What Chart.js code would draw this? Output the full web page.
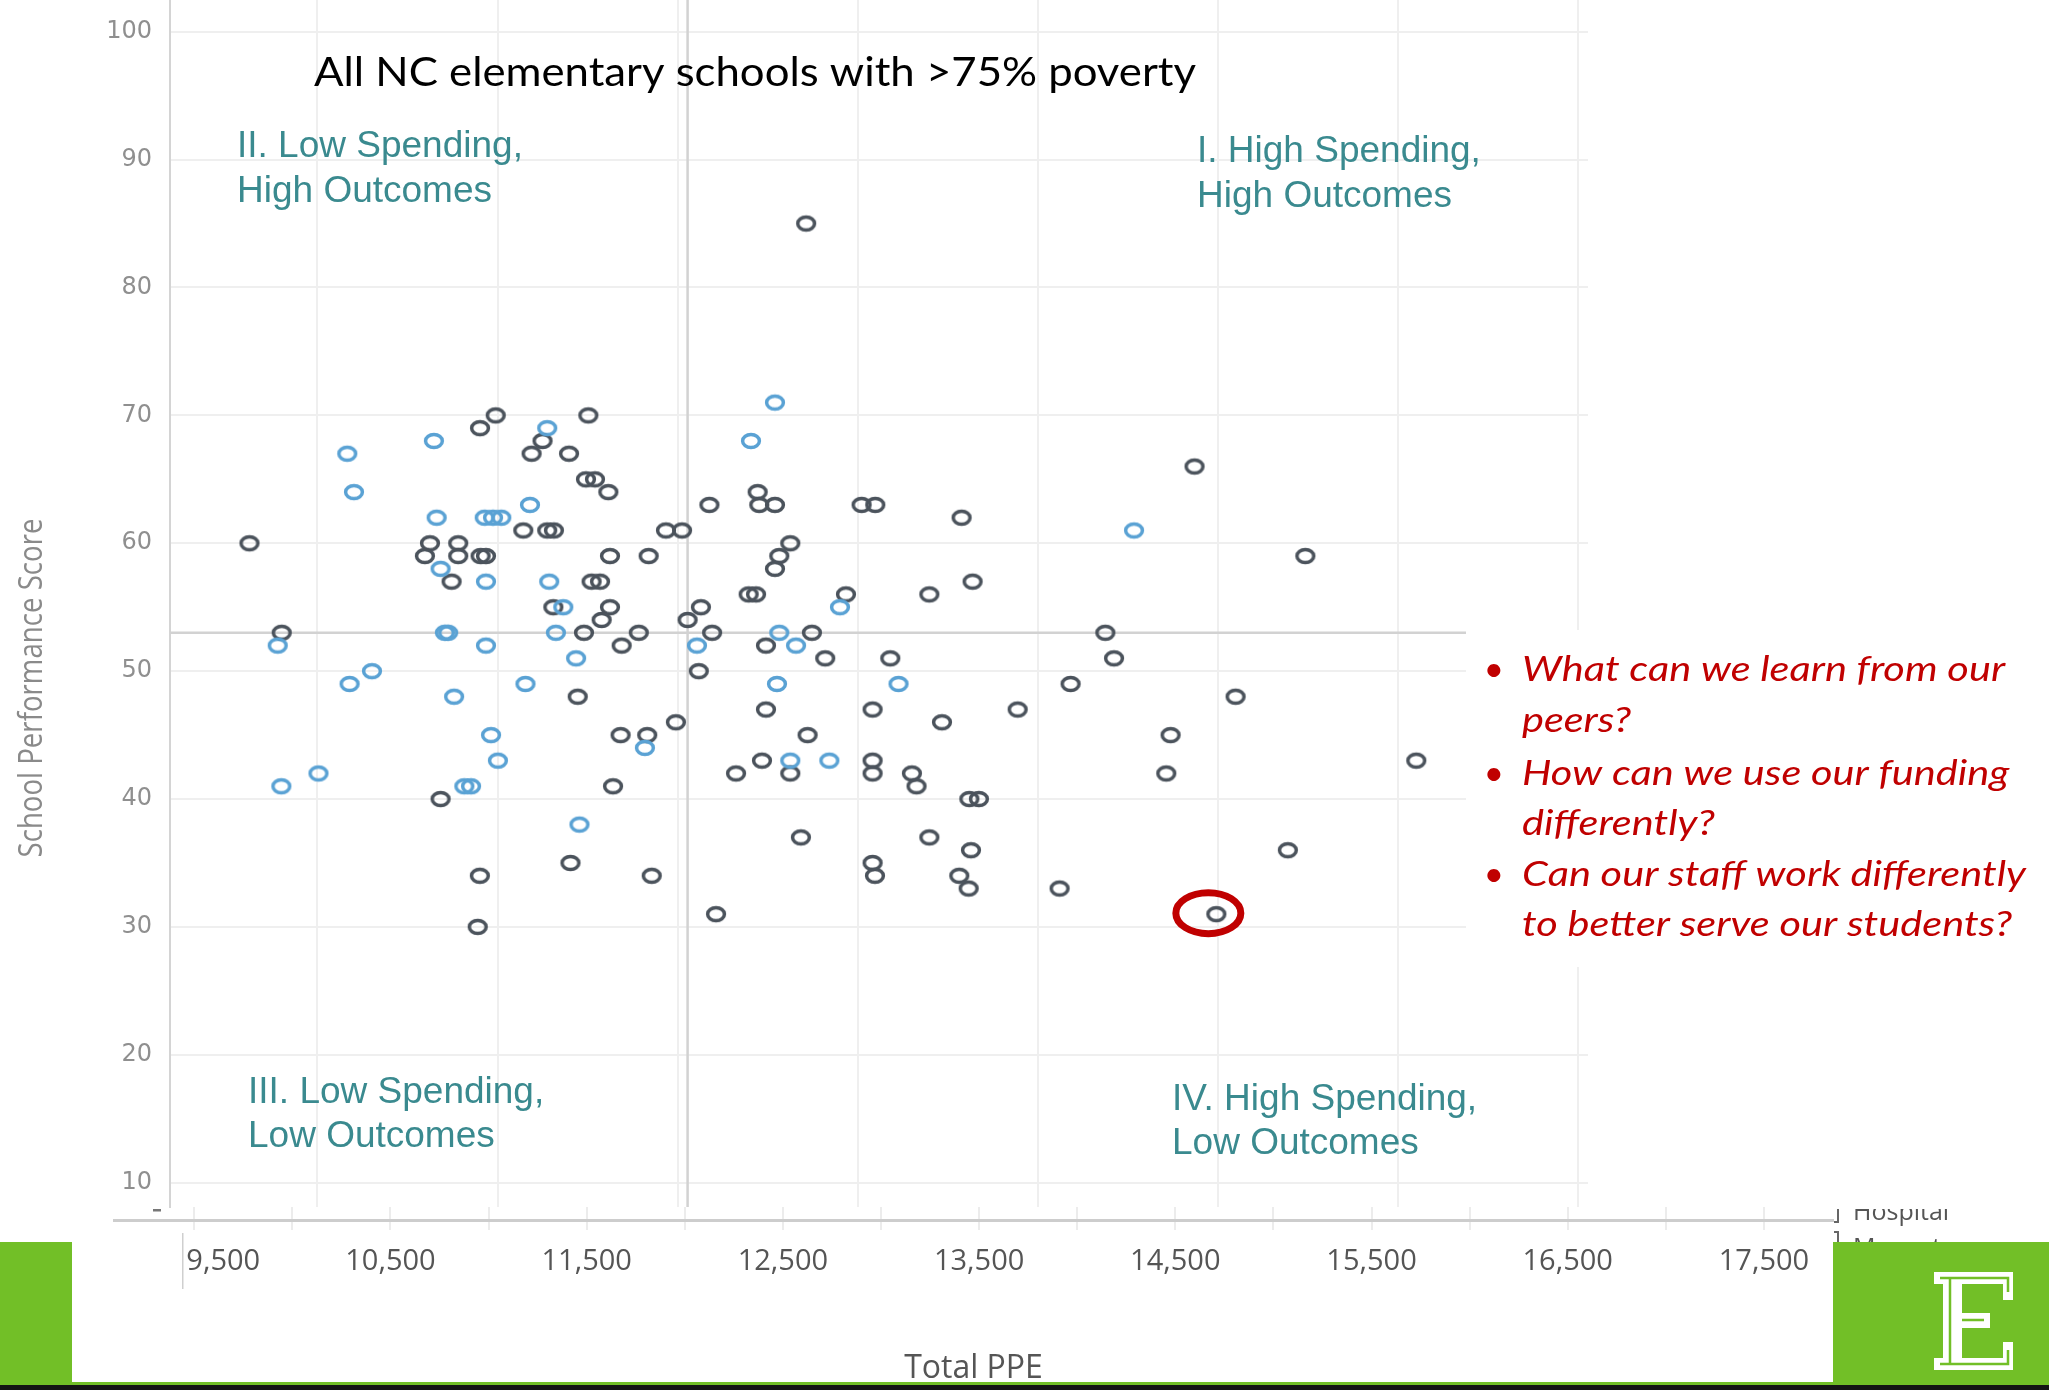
<!DOCTYPE html>
<html>
<head>
<meta charset="utf-8">
<title>NC elementary schools: spending vs performance</title>
<script src="https://cdn.jsdelivr.net/npm/chart.js@4.4.1/dist/chart.umd.min.js"></script>
<style>
  html, body { margin: 0; padding: 0; background: #fff; }
  #slide { position: relative; width: 2049px; height: 1390px; overflow: hidden; background: #fff; }
  #slide canvas { position: absolute; left: 0; }
  #plot { top: 0; }
  #ppeAxis { top: 1207px; }
  .green { position: absolute; background: #72bf27; }
</style>
</head>
<body>
<div id="slide">
  <canvas id="plot" width="2049" height="1390"></canvas>
  <canvas id="ppeAxis" width="2049" height="190"></canvas>
  <div class="green" style="left:0;top:1242px;width:72px;height:142px"></div>
  <div class="green" style="left:1833px;top:1242px;width:216px;height:142px"></div>
  <div class="green" style="left:0;top:1382px;width:2049px;height:3px"></div>
  <div style="position:absolute;left:0;top:1385px;width:2049px;height:5px;background:#141414"></div>
  <svg style="position:absolute;left:1934px;top:1272px" width="79" height="98" viewBox="0 0 79 98">
    <path d="M0 0H79V28H69V12H28V41H56V56H28V86H69V70H79V98H0V86H9V12H0Z" fill="#fff"/>
    <path d="M16 6V92M6 6H74V20M6 92H74V78M28 48H50" stroke="#72bf27" stroke-width="2.5" fill="none"/>
  </svg>
</div>
<script>
// School performance score against total per-pupil expenditure
const darkPPE = [
  9623, 9802, 10903, 10990, 11250, 11189, 11397, 11504, 11491, 11541,
  11615, 11143, 11276, 11313, 10625, 10782, 10597, 10782, 10906, 10936,
  11624, 10745, 11522, 11569, 11310, 11624, 11578, 11480, 11689, 11784,
  12444, 12453, 12540, 12176, 13021, 13097, 13576, 11935, 12024, 11839,
  12625, 12564, 12540, 12394, 12435, 12934, 13397, 13637, 12129, 12055,
  12191, 12745, 12490, 12819, 13180, 12117, 14869, 15484, 14374, 14422,
  11445, 11990, 11683, 11831, 11641, 10684, 11405, 10902, 11856, 10890,
  12490, 13082, 13887, 13467, 12721, 12468, 13082, 12324, 12625, 13082,
  13300, 13326, 13619, 13672, 12684, 13397, 13628, 13082, 13095, 13563,
  13615, 12213, 14181, 15097, 14736, 14712, 16100, 15387, 14120, 14990,
  12713
];
const darkScore = [
  60, 53, 69, 70, 68, 67, 67, 70, 65, 65,
  64, 61, 61, 61, 60, 60, 59, 59, 59, 59,
  59, 57, 57, 57, 55, 55, 54, 53, 52, 53,
  64, 63, 63, 63, 63, 63, 62, 61, 61, 59,
  60, 59, 58, 56, 56, 56, 56, 57, 55, 54,
  53, 53, 52, 51, 51, 50, 66, 59, 53, 51,
  48, 46, 45, 45, 41, 40, 35, 34, 34, 30,
  47, 47, 47, 46, 45, 43, 43, 42, 42, 42,
  42, 41, 40, 40, 37, 37, 36, 35, 34, 34,
  33, 31, 49, 48, 45, 42, 43, 36, 33, 31,
  85
];
const bluePPE = [
  9780, 10166, 10203, 10647, 11276, 11180, 10662, 10929, 10975, 11021,
  10684, 10936, 11287, 11365, 10708, 10726, 11324, 10936, 11436, 12540,
  12407, 12901, 12564, 12107, 12657, 14533, 10303, 10179, 11155, 10759,
  10964, 11818, 11002, 10006, 9800, 10816, 10853, 11455, 12551, 13226,
  12625, 12842
];
const blueScore = [
  52, 67, 64, 68, 69, 63, 62, 62, 62, 62,
  58, 57, 57, 55, 53, 53, 53, 52, 51, 71,
  68, 55, 53, 52, 52, 61, 50, 49, 49, 48,
  45, 44, 43, 42, 41, 41, 41, 38, 49, 49,
  43, 43
];

const scoreTicks = [10, 20, 30, 40, 50, 60, 70, 80, 90, 100];
const ppeGrid = [10000, 11000, 12000, 13000, 14000, 15000, 16000, 17000];
const ppeAxisTicks = [9500, 10000, 10500, 11000, 11500, 12000, 12500, 13000, 13500,
  14000, 14500, 15000, 15500, 16000, 16500, 17000, 17500];
const ppeAxisLabels = [9500, 10500, 11500, 12500, 13500, 14500, 15500, 16500, 17500];

const medianPPE = 12055;
const medianScore = 53;
const circledSchool = [14990, 31];

const questions = [
  ['What can we learn from our', 'peers?'],
  ['How can we use our funding', 'differently?'],
  ['Can our staff work differently', 'to better serve our students?']
];

const TEAL = '#3a8a8f';
const RED = '#c00000';

// hollow, slightly flattened rings like the original marks
function ring(color) {
  const c = document.createElement('canvas');
  c.width = 24; c.height = 20;
  const g = c.getContext('2d');
  g.strokeStyle = color;
  g.lineWidth = 3.5;
  g.beginPath();
  g.ellipse(12, 10, 8.4, 6.4, 0, 0, Math.PI * 2);
  g.stroke();
  return c;
}

function fitText(ctx, text, x, y, width) {
  const w = ctx.measureText(text).width;
  ctx.save();
  ctx.translate(x, y);
  ctx.scale(width / w, 1);
  ctx.fillText(text, 0, 0);
  ctx.restore();
}

const overlay = {
  id: 'overlay',
  beforeDatasetsDraw(chart) {
    const { ctx, chartArea: a, scales: { x, y } } = chart;
    const mx = x.getPixelForValue(medianPPE);
    const my = y.getPixelForValue(medianScore);
    ctx.save();
    ctx.strokeStyle = '#d2d2d2';
    ctx.lineWidth = 2.5;
    ctx.beginPath();
    ctx.moveTo(mx, a.top); ctx.lineTo(mx, a.bottom);
    ctx.moveTo(a.left, my); ctx.lineTo(a.right, my);
    ctx.stroke();
    ctx.restore();
  },
  afterDatasetsDraw(chart) {
    const { ctx, scales: { x, y } } = chart;
    const cx = x.getPixelForValue(circledSchool[0]) - 8;
    const cy = y.getPixelForValue(circledSchool[1]) - 1;
    ctx.save();
    ctx.strokeStyle = RED;
    ctx.lineWidth = 7;
    ctx.beginPath();
    ctx.ellipse(cx, cy, 32.5, 20.5, 0, 0, Math.PI * 2);
    ctx.stroke();
    ctx.restore();
  },
  afterDraw(chart) {
    const ctx = chart.ctx;
    ctx.save();
    ctx.textBaseline = 'alphabetic';
    ctx.textAlign = 'left';

    // slide title
    ctx.fillStyle = '#000';
    ctx.font = '41px Lato';
    fitText(ctx, 'All NC elementary schools with >75% poverty', 314, 86, 882);

    // quadrant captions
    ctx.fillStyle = TEAL;
    ctx.font = '37px "Liberation Sans"';
    ctx.fillText('II. Low Spending,', 237, 157);
    ctx.fillText('High Outcomes', 237, 202);
    ctx.fillText('I. High Spending,', 1197, 162);
    ctx.fillText('High Outcomes', 1197, 207);
    ctx.fillText('III. Low Spending,', 248, 1103);
    ctx.fillText('Low Outcomes', 248, 1147);
    ctx.fillText('IV. High Spending,', 1172, 1110);
    ctx.fillText('Low Outcomes', 1172, 1154);

    // question box
    ctx.fillStyle = '#fff';
    ctx.fillRect(1466, 630, 583, 337);
    ctx.fillStyle = RED;
    ctx.font = 'italic 35px Lato';
    const sx = 504 / ctx.measureText(questions[2][0]).width;
    const baselines = [681, 732, 785, 835, 886, 936];
    questions.forEach((q, i) => {
      ctx.textAlign = 'center';
      ctx.fillText('\u2022', 1494, baselines[i * 2]);
      ctx.textAlign = 'left';
      q.forEach((line, j) => {
        ctx.save();
        ctx.translate(1522, baselines[i * 2 + j]);
        ctx.scale(sx, 1);
        ctx.fillText(line, 0, 0);
        ctx.restore();
      });
    });

    // axis title, stretched the way the exported pane was
    ctx.fillStyle = '#8a8a8a';
    ctx.font = '27px "Open Sans"';
    const title = 'School Performance Score';
    const tw = ctx.measureText(title).width;
    ctx.save();
    ctx.translate(42, 688);
    ctx.rotate(-Math.PI / 2);
    ctx.scale(339 / tw, 1.2);
    ctx.textAlign = 'center';
    ctx.fillText(title, 0, 0);
    ctx.restore();

    // leftovers of the pasted axis strip
    ctx.fillStyle = '#777';
    ctx.fillRect(153, 1209, 8, 2.5);
    ctx.fillStyle = '#cfcfcf';
    ctx.fillRect(182, 1233, 1.5, 56);
    ctx.save();
    ctx.beginPath();
    ctx.rect(1820, 1209, 229, 33);
    ctx.clip();
    ctx.strokeStyle = '#666';
    ctx.lineWidth = 2;
    ctx.beginPath();
    ctx.moveTo(1834, 1222); ctx.lineTo(1838, 1222); ctx.lineTo(1838, 1205);
    ctx.moveTo(1834, 1232); ctx.lineTo(1838, 1232); ctx.lineTo(1838, 1250);
    ctx.stroke();
    ctx.fillStyle = '#555';
    ctx.font = '25px "Open Sans"';
    ctx.textAlign = 'left';
    ctx.fillText('Hospital', 1853, 1220);
    ctx.fillText('Magnet', 1853, 1256);
    ctx.restore();

    ctx.restore();
  }
};

const toPoints = (xs, ys) => xs.map((v, i) => ({ x: v, y: ys[i] }));

new Chart(document.getElementById('plot'), {
  type: 'scatter',
  data: {
    datasets: [
      { label: 'blue', data: toPoints(bluePPE, blueScore), pointStyle: ring('#5aa2d4'), pointRadius: 9 },
      { label: 'dark', data: toPoints(darkPPE, darkScore), pointStyle: ring('#4b535c'), pointRadius: 9 }
    ]
  },
  options: {
    responsive: false,
    animation: false,
    devicePixelRatio: 1,
    layout: { autoPadding: false, padding: { left: 0, top: 0, right: 461, bottom: 183 } },
    plugins: { legend: { display: false }, tooltip: { enabled: false } },
    scales: {
      x: {
        type: 'linear', min: 9182, max: 17053,
        afterBuildTicks: s => { s.ticks = ppeGrid.map(v => ({ value: v })); },
        afterFit: s => { s.height = 0; s.paddingLeft = 0; s.paddingRight = 0; },
        grid: { color: '#efefef', lineWidth: 2, drawTicks: false },
        border: { display: false },
        ticks: { display: false }
      },
      y: {
        min: 8.1, max: 102.48,
        afterBuildTicks: s => { s.ticks = scoreTicks.map(v => ({ value: v })); },
        afterFit: s => { s.width = 170; s.paddingTop = 0; s.paddingBottom = 0; },
        grid: { color: '#efefef', lineWidth: 2, drawTicks: false },
        border: { color: '#d4d4d4', width: 2 },
        ticks: { padding: 18, color: '#8f8f8f', font: { family: 'DejaVu Sans', size: 24 } }
      }
    }
  },
  plugins: [overlay]
});

// the Total PPE axis strip under the plot
new Chart(document.getElementById('ppeAxis'), {
  type: 'scatter',
  data: { datasets: [] },
  options: {
    responsive: false,
    animation: false,
    devicePixelRatio: 1,
    layout: { autoPadding: false, padding: { left: 114, right: 216, top: 0, bottom: 0 } },
    plugins: { legend: { display: false }, tooltip: { enabled: false } },
    scales: {
      x: {
        type: 'linear', position: 'bottom', min: 9091, max: 17852,
        afterBuildTicks: s => { s.ticks = ppeAxisTicks.map(v => ({ value: v })); },
        afterFit: s => { s.height = 177; s.paddingLeft = 0; s.paddingRight = 0; },
        grid: { color: '#ececec', lineWidth: 2, tickLength: 10 },
        border: { color: '#cdcdcd', width: 3 },
        ticks: {
          padding: 14, color: '#555', autoSkip: false, minRotation: 0, maxRotation: 0,
          font: { family: 'Open Sans', size: 29 },
          callback: (v, i) => {
            if (!ppeAxisLabels.includes(v)) return '';
            const label = v.toLocaleString('en-US');
            // keep the first label clear of the pane edge
            return i === 0 ? '\u2003\u2003' + label : label;
          }
        },
        title: {
          display: true, text: 'Total PPE', color: '#555',
          font: { family: 'Open Sans', size: 32 }, padding: { top: 0, bottom: 9 }
        }
      },
      y: { display: false }
    }
  }
});
</script>
</body>
</html>
